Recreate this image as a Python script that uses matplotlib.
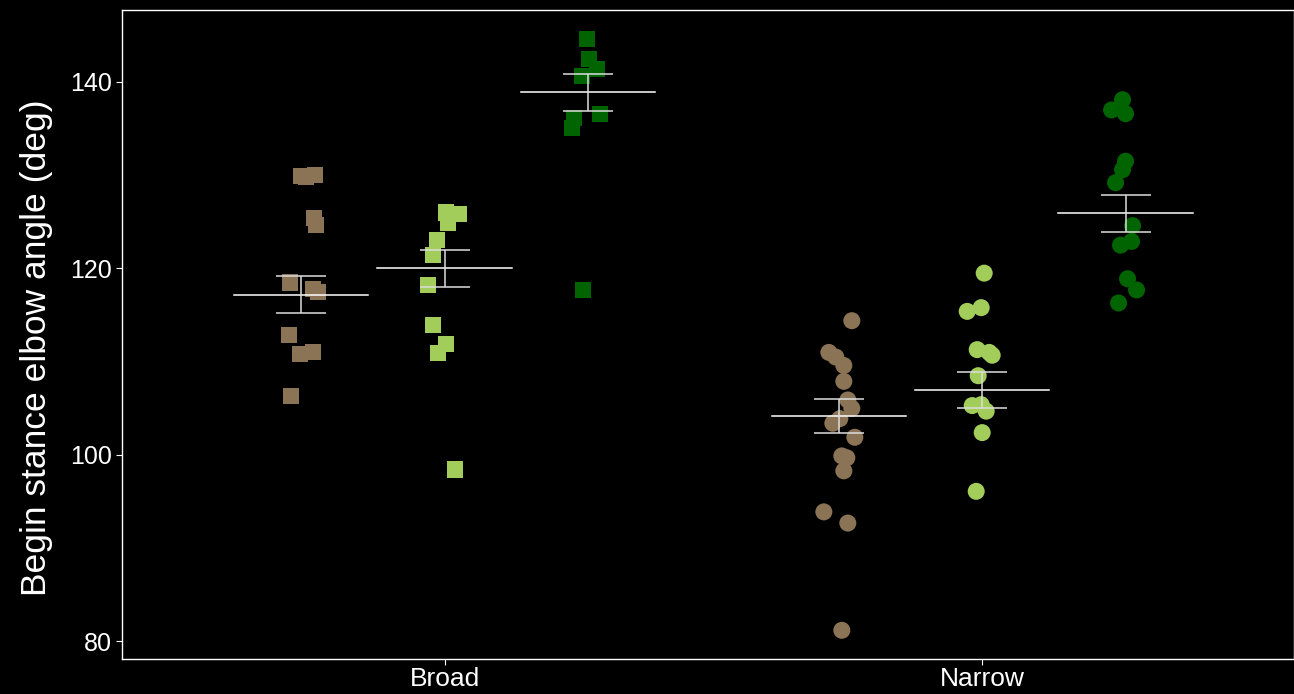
import numpy as np
import matplotlib
matplotlib.use("Agg")
import matplotlib.pyplot as plt

plt.rcParams['font.family'] = ['Liberation Sans', 'DejaVu Sans']

# ---- data ----
stances = ['Broad', 'Narrow']
groups = ['brown', 'light', 'dark']
colors = {'brown': '#8B7355', 'light': '#A2CD5A', 'dark': '#006400'}
markers = {'Broad': 's', 'Narrow': 'o'}
msize = {'Broad': 135, 'Narrow': 150}

broad_brown = [129.9, 129.8, 130.0, 125.4, 124.7, 118.5, 117.8, 117.5, 112.9, 110.8, 111.0, 106.3]
broad_light = [126.0, 125.8, 124.9, 123.1, 121.4, 118.2, 113.9, 111.9, 110.9, 98.45]
broad_dark = [144.6, 142.5, 141.4, 140.6, 136.6, 136.1, 135.1, 117.7]
narrow_brown = [114.4, 111.0, 110.5, 109.6, 107.9, 105.9, 105.0, 103.4, 103.9, 101.9,
                99.9, 99.7, 98.3, 93.9, 92.7, 81.2]
narrow_light = [119.5, 115.4, 115.8, 111.3, 110.7, 111.0, 108.5, 105.3, 105.4, 104.7, 102.4, 96.1]
narrow_dark = [138.1, 137.0, 136.6, 131.5, 130.6, 129.2, 124.6, 122.9, 122.5, 118.9, 117.7, 116.3]

# horizontal jitter of each point (pixels in the reference, 538 px = 1 group)
jit_broad_brown = [0, 5, 14, 13, 15, -11, 12, 17, -12, -1, 12, -10]
jit_broad_light = [1, 14, 3, -8, -12, -17, -12, 1, -7, 10]
jit_broad_dark = [-1, 1, 9, -6, 12, -14, -16, -5]
jit_narrow_brown = [13, -10, -3, 5, 5, 9, 13, -6, 1, 16, 3, 8, 5, -15, 9, 3]
jit_narrow_light = [2, -15, -1, -5, 10, 7, -4, -10, -1, 4, 0, -6]
jit_narrow_dark = [-3, -14, 0, 0, -3, -10, 7, 6, -5, 2, 11, -7]

# mean and standard error per group
means_broad = [117.2, 120.0, 138.9]
se_broad = [1.95, 2.0, 2.0]
means_narrow = [104.2, 107.0, 125.9]
se_narrow = [1.8, 1.95, 1.95]

values = {'Broad': [broad_brown, broad_light, broad_dark],
          'Narrow': [narrow_brown, narrow_light, narrow_dark]}
jitters = {'Broad': [jit_broad_brown, jit_broad_light, jit_broad_dark],
           'Narrow': [jit_narrow_brown, jit_narrow_light, jit_narrow_dark]}
means = {'Broad': means_broad, 'Narrow': means_narrow}
ses = {'Broad': se_broad, 'Narrow': se_narrow}

fig = plt.figure(figsize=(12.94, 6.94), dpi=100, facecolor='black')
ax = fig.add_axes([0.0943, 0.0504, 0.9057, 0.9352])
ax.set_facecolor('black')

dodge = 0.8 / 3
px = 1 / 538.
for si, st in enumerate(stances):
    for gi, g in enumerate(groups):
        xc = si + 1 + (gi - 1) * dodge
        y = np.array(values[st][gi])
        x = xc + np.array(jitters[st][gi]) * px
        ax.scatter(x, y, s=msize[st], marker=markers[st], color=colors[g],
                   edgecolors='none', zorder=2)
        m, se = means[st][gi], ses[st][gi]
        ax.plot([xc - 0.125, xc + 0.125], [m, m], color='white', lw=1.1, zorder=3)
        ax.errorbar(xc, m, yerr=se, fmt='none', ecolor='#dddddd', elinewidth=1.1,
                    capsize=18, capthick=1.1, zorder=3)

ax.set_xlim(0.4, 2.58)
ax.set_ylim(78.12, 147.72)
ax.set_xticks([1, 2])
ax.set_xticklabels(stances)
ax.set_yticks([80, 100, 120, 140])
ax.tick_params(colors='white', length=4, width=0.8)
ax.tick_params(axis='x', labelsize=19, pad=2)
ax.tick_params(axis='y', labelsize=18)
ax.set_ylabel('Begin stance elbow angle (deg)', color='white', fontsize=25.5)
ax.yaxis.set_label_coords(-0.0585, 0.48)
for sp in ax.spines.values():
    sp.set_color('white')
    sp.set_linewidth(1.0)

fig.savefig('out.png', dpi=100, facecolor='black')
